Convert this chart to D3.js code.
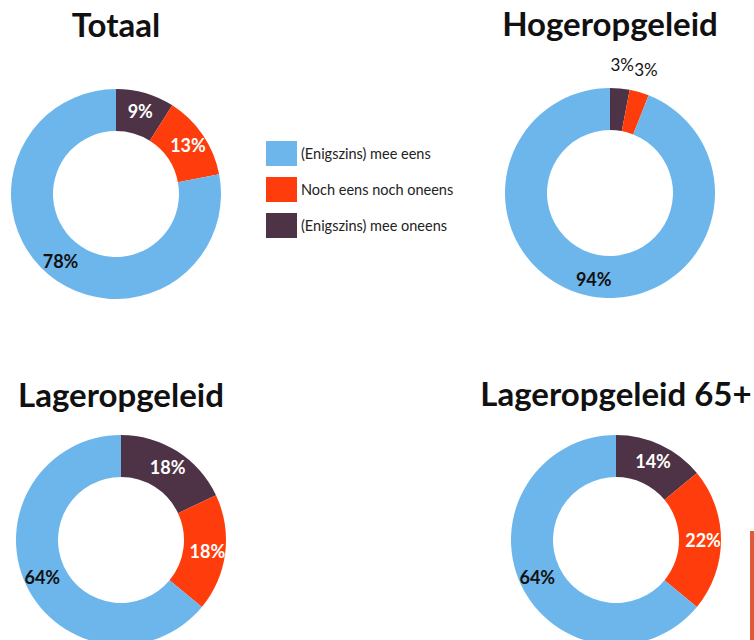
<!DOCTYPE html>
<html>
<head>
<meta charset="utf-8">
<script src="https://cdn.jsdelivr.net/npm/d3@7"></script>
<style>
  body { margin: 0; background: #fff; }
  svg { display: block; font-family: Lato, "Open Sans", sans-serif; }
</style>
</head>
<body>
<script>
// Data

var categories = ["(Enigszins) mee eens", "Noch eens noch oneens", "(Enigszins) mee oneens"];
var groups = ["Totaal", "Hogeropgeleid", "Lageropgeleid", "Lageropgeleid 65+"];
var meeEens = [78, 94, 64, 64];
var nochNoch = [13, 3, 18, 22];
var meeOneens = [9, 3, 18, 14];

var colors = ["#6db6ec", "#ff3d0c", "#4e3346"];

// 1. Layout

var width = 754, height = 640;
var outer = 105, inner = 63;

var cells = [
  {cx: 116, cy: 194, ty: 37},
  {cx: 610, cy: 193, ty: 36},
  {cx: 121, cy: 540, ty: 407},
  {cx: 616, cy: 540, ty: 406}
];

var svg = d3.select("body").append("svg")
    .attr("width", width)
    .attr("height", height);

var color = d3.scaleOrdinal().domain(categories).range(colors);

// slices go clockwise from the top: oneens, noch, eens
var pie = d3.pie()
    .sort(null)
    .value(function(d) { return d.value; });

var arc = d3.arc().innerRadius(inner).outerRadius(outer);
var labelArc = d3.arc().innerRadius(inner + 24).outerRadius(inner + 24);
var outArc = d3.arc().innerRadius(outer + 24).outerRadius(outer + 24);

// 2. Draw the donuts

groups.forEach(function(name, i) {
  var cell = cells[i];
  var slices = [
    {cat: categories[2], value: meeOneens[i]},
    {cat: categories[1], value: nochNoch[i]},
    {cat: categories[0], value: meeEens[i]}
  ];

  svg.append("text")
      .attr("x", cell.cx)
      .attr("y", cell.ty)
      .attr("text-anchor", "middle")
      .style("font-size", "33px")
      .style("font-weight", "bold")
      .attr("fill", "#111")
      .text(name);

  var g = svg.append("g")
      .attr("transform", "translate(" + cell.cx + "," + cell.cy + ")");

  var arcs = pie(slices);

  g.selectAll("path")
      .data(arcs)
      .enter().append("path")
      .attr("d", arc)
      .attr("fill", function(d) { return color(d.data.cat); });

  // small slices get their label outside the ring
  g.selectAll(".label")
      .data(arcs)
      .enter().append("text")
      .attr("class", "label")
      .attr("transform", function(d) {
        var p = d.data.value < 5 ? outArc.centroid(d) : labelArc.centroid(d);
        return "translate(" + p + ")";
      })
      .attr("dy", "0.4em")
      .attr("text-anchor", "middle")
      .style("font-size", function(d) { return d.data.value < 5 ? "17px" : "18px"; })
      .style("font-weight", function(d) { return d.data.value < 5 ? "normal" : "bold"; })
      .attr("fill", function(d) {
        if (d.data.value < 5 || d.data.cat == categories[0]) return "#111";
        return "#fff";
      })
      .text(function(d) { return d.data.value + "%"; });
});

// 3. Legend

var legend = svg.append("g")
    .attr("transform", "translate(266,141)");

var item = legend.selectAll("g")
    .data(categories)
    .enter().append("g")
    .attr("transform", function(d, i) { return "translate(0," + i * 36 + ")"; });

item.append("rect")
    .attr("width", 31)
    .attr("height", 25)
    .attr("fill", function(d) { return color(d); });

item.append("text")
    .attr("x", 35)
    .attr("y", 12.5)
    .attr("dy", "0.35em")
    .style("font-size", "14.5px")
    .attr("fill", "#222")
    .text(function(d) { return d; });

// red bar at the right edge
svg.append("rect")
    .attr("x", 750)
    .attr("y", 531)
    .attr("width", 4)
    .attr("height", 109)
    .attr("fill", "#e05a3a");
</script>
</body>
</html>
